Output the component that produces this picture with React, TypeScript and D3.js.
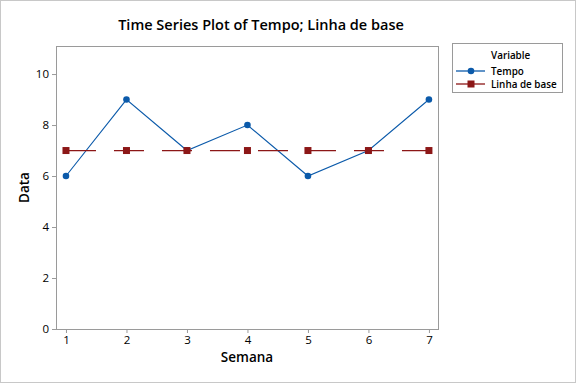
import { useEffect, useRef } from "react";
import { select, scaleLinear, axisBottom, axisLeft, line } from "d3";

////
// data
const weeks = [1, 2, 3, 4, 5, 6, 7];
const tempo = [6, 9, 7, 8, 6, 7, 9];
const baseline = [7, 7, 7, 7, 7, 7, 7];
const yTicks = [0, 2, 4, 6, 8, 10];

/////
const OPTIONS = {
  width: 577,
  height: 385,
  left: 56,
  right: 438,
  top: 46,
  bottom: 329,
  font: "'Segoe UI', 'Open Sans', 'Noto Sans', sans-serif",
  blue: "#0B5AAA",
  red: "#8C1717",
  frame: "#9a9a9a",
};

const App = () => {
  const root = useRef<SVGSVGElement | null>(null);

  useEffect(() => {
    document.body.style.margin = "0";
    const { width, height, left, right, top, bottom, font, blue, red, frame } = OPTIONS;
    const svg = select(root.current);
    svg.selectAll("*").remove();
    //
    const x = scaleLinear().domain([0.835, 7.15]).range([left, right]);
    const y = scaleLinear().domain([0, 11.1]).range([bottom, top]);
    //
    // outer border
    svg
      .append("rect")
      .attr("x", 0.5)
      .attr("y", 0.5)
      .attr("width", width - 2)
      .attr("height", height - 3)
      .attr("fill", "#fff")
      .attr("stroke", "#c8c8c8");
    //
    // title
    svg
      .append("text")
      .attr("x", 261)
      .attr("y", 30)
      .attr("text-anchor", "middle")
      .attr("font-family", font)
      .attr("font-size", 14.5)
      .attr("font-weight", 600)
      .attr("fill", "#000")
      .text("Time Series Plot of Tempo; Linha de base");
    //
    // axes
    const xAxis = svg
      .append("g")
      .attr("transform", `translate(0, ${bottom})`)
      .call(axisBottom(x).tickValues(weeks).tickSize(4).tickPadding(3).tickFormat((d) => String(d)));
    const yAxis = svg
      .append("g")
      .attr("transform", `translate(${left}, 0)`)
      .call(axisLeft(y).tickValues(yTicks).tickSize(4).tickPadding(3).tickFormat((d) => String(d)));
    [xAxis, yAxis].forEach((a) => {
      a.select(".domain").remove();
      a.selectAll("line").attr("stroke", frame);
      a.selectAll("text")
        .attr("font-family", font)
        .attr("font-size", 11.5)
        .attr("fill", "#000");
    });
    //
    // plot frame
    svg
      .append("rect")
      .attr("x", left + 0.5)
      .attr("y", top + 0.5)
      .attr("width", right - left)
      .attr("height", bottom - top)
      .attr("fill", "none")
      .attr("stroke", frame);
    //
    // axis titles
    svg
      .append("text")
      .attr("x", (left + right) / 2)
      .attr("y", 362)
      .attr("text-anchor", "middle")
      .attr("font-family", font)
      .attr("font-size", 13.5)
      .attr("font-weight", 600)
      .text("Semana");
    svg
      .append("text")
      .attr("transform", `translate(29, ${(top + bottom) / 2}) rotate(-90)`)
      .attr("text-anchor", "middle")
      .attr("font-family", font)
      .attr("font-size", 13.5)
      .attr("font-weight", 600)
      .text("Data");
    //
    // series (Tempo first, Linha de base drawn on top)
    const pts = (vals: number[]) => weeks.map((w, i) => [x(w), y(vals[i])] as [number, number]);
    const path = line();
    svg
      .append("path")
      .attr("d", path(pts(tempo)))
      .attr("fill", "none")
      .attr("stroke", blue)
      .attr("stroke-width", 1.1);
    svg
      .append("g")
      .selectAll("circle")
      .data(pts(tempo))
      .join("circle")
      .attr("cx", (d) => d[0])
      .attr("cy", (d) => d[1])
      .attr("r", 3.3)
      .attr("fill", blue);
    svg
      .append("path")
      .attr("d", path(pts(baseline)))
      .attr("fill", "none")
      .attr("stroke", red)
      .attr("stroke-width", 1.3)
      .attr("stroke-dasharray", "30 18");
    svg
      .append("g")
      .selectAll("rect")
      .data(pts(baseline))
      .join("rect")
      .attr("x", (d) => d[0] - 3.5)
      .attr("y", (d) => d[1] - 3.5)
      .attr("width", 7)
      .attr("height", 7)
      .attr("fill", red);
    //
    // legend
    const lg = svg.append("g");
    lg.append("rect")
      .attr("x", 452.5)
      .attr("y", 43.5)
      .attr("width", 110)
      .attr("height", 49)
      .attr("fill", "#fff")
      .attr("stroke", frame);
    lg.append("text")
      .attr("x", 491)
      .attr("y", 59)
      .attr("font-family", font)
      .attr("font-size", 9.9)
      .attr("font-weight", 600)
      .text("Variable");
    const rows = [
      { name: "Tempo", color: blue, shape: "circle", cy: 71 },
      { name: "Linha de base", color: red, shape: "square", cy: 84 },
    ];
    rows.forEach((r) => {
      lg.append("line")
        .attr("x1", 456)
        .attr("x2", 485)
        .attr("y1", r.cy)
        .attr("y2", r.cy)
        .attr("stroke", r.color)
        .attr("stroke-width", 1.3);
      if (r.shape === "circle") {
        lg.append("circle").attr("cx", 471).attr("cy", r.cy).attr("r", 3.3).attr("fill", r.color);
      } else {
        lg.append("rect")
          .attr("x", 467.5)
          .attr("y", r.cy - 3.5)
          .attr("width", 7)
          .attr("height", 7)
          .attr("fill", r.color);
      }
      lg.append("text")
        .attr("x", 491)
        .attr("y", r.cy + 3.5)
        .attr("font-family", font)
        .attr("font-size", 9.9)
        .attr("font-weight", 600)
        .text(r.name);
    });
  }, []);

  return <svg ref={root} width={577} height={385} style={{ display: "block" }} />;
};

export default App;
